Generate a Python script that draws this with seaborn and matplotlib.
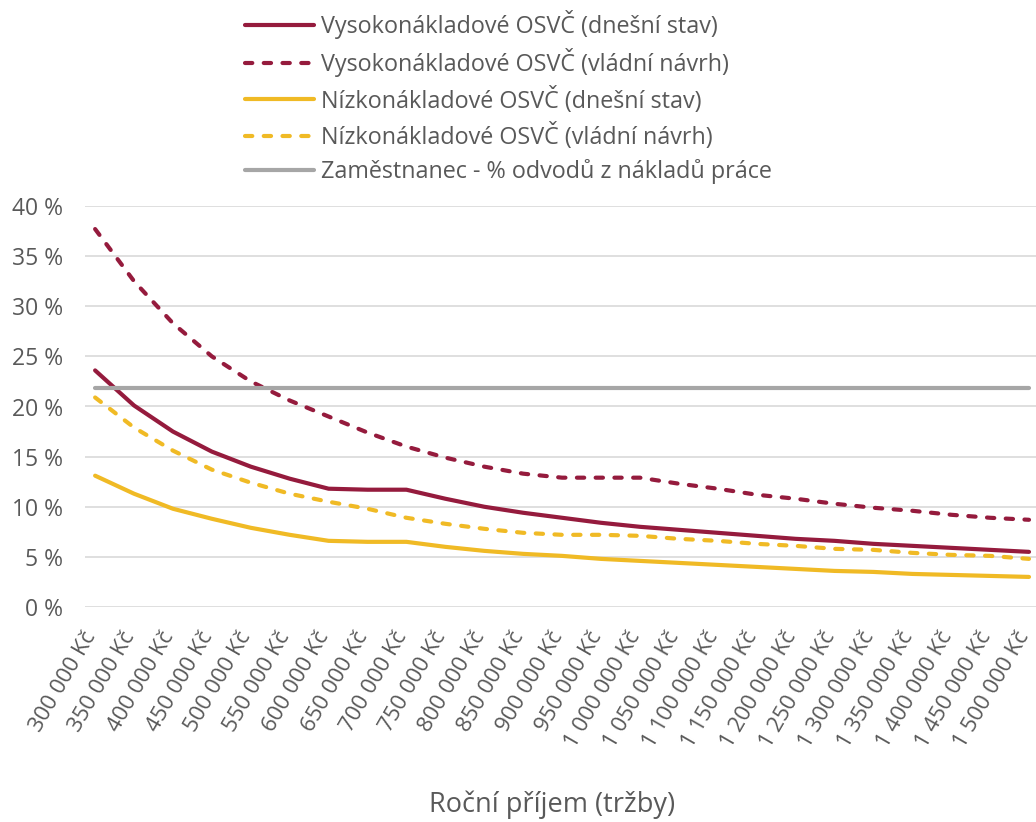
import matplotlib
matplotlib.use("Agg")
import matplotlib.pyplot as plt
import matplotlib.transforms as mtransforms
import seaborn as sns
import pandas as pd

# ---- data ----
prijem = [300000, 350000, 400000, 450000, 500000, 550000, 600000, 650000, 700000,
          750000, 800000, 850000, 900000, 950000, 1000000, 1050000, 1100000, 1150000,
          1200000, 1250000, 1300000, 1350000, 1400000, 1450000, 1500000]
tick_labels = ["300 000 Kč", "350 000 Kč", "400 000 Kč", "450 000 Kč", "500 000 Kč",
               "550 000 Kč", "600 000 Kč", "650 000 Kč", "700 000 Kč", "750 000 Kč",
               "800 000 Kč", "850 000 Kč", "900 000 Kč", "950 000 Kč", "1 000 000 Kč",
               "1 050 000 Kč", "1 100 000 Kč", "1 150 000 Kč", "1 200 000 Kč",
               "1 250 000 Kč", "1 300 000 Kč", "1 350 000 Kč", "1 400 000 Kč",
               "1 450 000 Kč", "1 500 000 Kč"]
vys_dnes = [23.6, 20.1, 17.5, 15.5, 14.0, 12.8, 11.8, 11.7, 11.7, 10.8, 10.0, 9.4, 8.9,
            8.4, 8.0, 7.7, 7.4, 7.1, 6.8, 6.6, 6.3, 6.1, 5.9, 5.7, 5.5]
vys_navrh = [37.7, 32.5, 28.3, 25.0, 22.5, 20.6, 19.0, 17.4, 16.0, 14.9, 14.0, 13.3, 12.9,
             12.9, 12.9, 12.3, 11.8, 11.2, 10.8, 10.3, 9.9, 9.6, 9.2, 8.9, 8.7]
niz_dnes = [13.1, 11.3, 9.8, 8.8, 7.9, 7.2, 6.6, 6.5, 6.5, 6.0, 5.6, 5.3, 5.1, 4.8, 4.6,
            4.4, 4.2, 4.0, 3.8, 3.6, 3.5, 3.3, 3.2, 3.1, 3.0]
niz_navrh = [20.9, 17.9, 15.6, 13.7, 12.4, 11.3, 10.5, 9.8, 8.9, 8.3, 7.8, 7.4, 7.2, 7.2,
             7.1, 6.8, 6.6, 6.3, 6.1, 5.8, 5.7, 5.4, 5.2, 5.1, 4.8]
zamestnanec = [21.8, 21.8, 21.8, 21.8, 21.8, 21.8, 21.8, 21.8, 21.8, 21.8, 21.8, 21.8, 21.8,
               21.8, 21.8, 21.8, 21.8, 21.8, 21.8, 21.8, 21.8, 21.8, 21.8, 21.8, 21.8]
series_names = ["Vysokonákladové OSVČ (dnešní stav)", "Vysokonákladové OSVČ (vládní návrh)",
                "Nízkonákladové OSVČ (dnešní stav)", "Nízkonákladové OSVČ (vládní návrh)",
                "Zaměstnanec - % odvodů z nákladů práce"]
y_ticks = [0, 5, 10, 15, 20, 25, 30, 35, 40]
x_title = "Roční příjem (tržby)"

# ---- style ----
sns.set_theme(style="white")
plt.rcParams['font.family'] = ['Open Sans', 'DejaVu Sans']
TXT = "#595959"
MAROON = "#951B3D"
YELLOW = "#F0BA25"
GRAY = "#A6A6A6"
DASH = (0, (1.75, 2.75))

styles = [
    dict(color=MAROON, ls="-"),
    dict(color=MAROON, ls=DASH),
    dict(color=YELLOW, ls="-"),
    dict(color=YELLOW, ls=DASH),
    dict(color=GRAY, ls="-"),
]
all_series = [vys_dnes, vys_navrh, niz_dnes, niz_navrh, zamestnanec]

fig = plt.figure(figsize=(10.36, 8.22), dpi=100)
ax = fig.add_axes([85 / 1036, (822 - 607) / 822, (1036 - 85) / 1036, (607 - 206) / 822])

idx = list(range(len(prijem)))
for name, vals, st in zip(series_names, all_series, styles):
    df = pd.DataFrame({"i": idx, "v": vals})
    sns.lineplot(data=df, x="i", y="v", ax=ax, color=st["color"], linestyle=st["ls"],
                 linewidth=3.0, label=name, dash_capstyle="round",
                 solid_capstyle="round", legend=False)

ax.set_xlim(-0.26, 24.18)
ax.set_ylim(0, 40)
ax.set_yticks(y_ticks)
ax.set_yticklabels([f"{t} %" for t in y_ticks])
ax.set_xticks(idx)
ax.set_xticklabels(tick_labels, rotation=60, ha="right", va="center",
                   rotation_mode="anchor")
ax.tick_params(axis="x", length=0, pad=19, labelsize=16, labelcolor=TXT)
ax.tick_params(axis="y", length=0, pad=16, labelsize=16.5, labelcolor=TXT)
shift = mtransforms.ScaledTranslation(-4 / 100, 0, fig.dpi_scale_trans)
for lab in ax.get_xticklabels():
    lab.set_transform(lab.get_transform() + shift)
ax.grid(axis="y", color="#D9D9D9", linewidth=1.2)
ax.grid(axis="x", visible=False)
for s in ax.spines.values():
    s.set_visible(False)
ax.set_ylabel("")
ax.set_xlabel(x_title, fontsize=19.5, color=TXT)
ax.xaxis.label.set_va("center")
ax.xaxis.set_label_coords((552 - 85) / 951, (607 - 805) / 401)

handles, labels = ax.get_legend_handles_labels()
leg = fig.legend(handles, labels, loc="upper left",
                 bbox_to_anchor=(245 / 1036, 1 - 10 / 822), frameon=False,
                 borderaxespad=0, borderpad=0, fontsize=16.8, handlelength=2.95,
                 handletextpad=0.3, labelspacing=0.4)
for t in leg.get_texts():
    t.set_color(TXT)

fig.savefig("out.png", dpi=100)
